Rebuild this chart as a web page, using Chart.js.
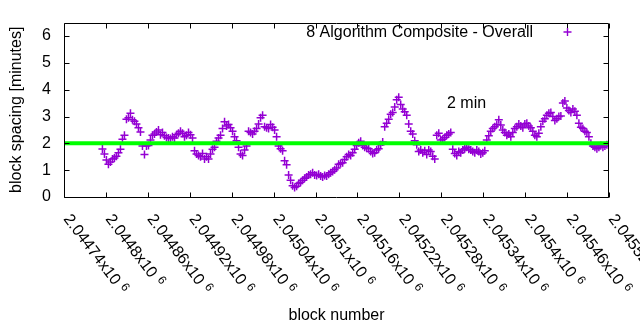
<!DOCTYPE html>
<html>
<head>
<meta charset="utf-8">
<script src="https://cdn.jsdelivr.net/npm/chart.js@4"></script>
<style>
  body { margin: 0; background: #fff; }
  canvas { display: block; }
</style>
</head>
<body>
<canvas id="chart" width="640" height="330"></canvas>
<script>
// Axis ranges and ticks
const xMin = 2044740;
const xMax = 2045520;
const xTickBlocks = [2044740, 2044800, 2044860, 2044920, 2044980, 2045040, 2045100,
  2045160, 2045220, 2045280, 2045340, 2045400, 2045460, 2045520];
const xTickMantissas = ['2.04474', '2.0448', '2.04486', '2.04492', '2.04498', '2.04504', '2.0451',
  '2.04516', '2.04522', '2.04528', '2.04534', '2.0454', '2.04546', '2.04552'];
const xTickExponent = '6';
const yTickValues = [0, 1, 2, 3, 4, 5, 6];

// Block range covered by the measurements
const firstBlock = 2044795;
const lastBlock = 2045517;

// block spacing [minutes] in block order
const spacingMinutes = [
  1.79, 1.60, 1.38, 1.22, 1.30, 1.42, 1.45, 1.52, 1.65, 1.78,
  2.15, 2.30, 2.90, 2.95, 3.12, 2.88, 2.82, 2.72, 2.58, 2.42,
  1.90, 1.58, 1.90, 1.92, 2.12, 2.30, 2.35, 2.42, 2.50, 2.32,
  2.40, 2.28, 2.22, 2.20, 2.18, 2.25, 2.20, 2.32, 2.38, 2.45,
  2.38, 2.25, 2.30, 2.40, 2.32, 2.20, 1.72, 1.60, 1.55, 1.50,
  1.62, 1.42, 1.50, 1.42, 1.60, 1.78, 1.85, 2.08, 2.20, 2.30,
  2.55, 2.80, 2.65, 2.70, 2.58, 2.45, 2.25, 2.10, 1.85, 1.60,
  1.55, 1.75, 1.90, 2.45, 2.40, 2.35, 2.45, 2.55, 2.72, 2.95,
  3.05, 2.62, 2.58, 2.55, 2.70, 2.60, 2.50, 2.25, 1.90, 1.80,
  1.72, 1.35, 1.20, 0.82, 0.62, 0.42, 0.35, 0.40, 0.50, 0.55,
  0.62, 0.70, 0.75, 0.82, 0.85, 0.90, 0.82, 0.80, 0.85, 0.78,
  0.75, 0.80, 0.78, 0.85, 0.90, 0.95, 1.02, 1.08, 1.22, 1.25,
  1.28, 1.40, 1.50, 1.58, 1.55, 1.65, 1.78, 1.92, 2.02, 2.08,
  1.92, 1.85, 1.82, 1.80, 1.70, 1.62, 1.65, 1.75, 1.80, 1.95,
  2.05, 2.62, 2.75, 2.90, 3.08, 3.15, 3.35, 3.62, 3.72, 3.45,
  3.28, 3.18, 3.05, 2.72, 2.45, 2.35, 2.10, 1.95, 1.70, 1.75,
  1.65, 1.72, 1.58, 1.75, 1.70, 1.52, 1.42, 2.30, 2.38, 2.12,
  2.15, 2.22, 2.30, 2.35, 2.40, 1.78, 1.62, 1.55, 1.70, 1.65,
  1.75, 1.80, 1.85, 1.78, 1.75, 1.70, 1.65, 1.75, 1.70, 1.60,
  1.65, 1.72, 2.12, 2.28, 2.45, 2.55, 2.62, 2.70, 2.88, 2.68,
  2.50, 2.40, 2.30, 2.35, 2.25, 2.40, 2.55, 2.62, 2.72, 2.65,
  2.58, 2.72, 2.75, 2.65, 2.58, 2.45, 2.30, 2.25, 2.38, 2.62,
  2.82, 2.92, 3.05, 3.12, 3.15, 3.00, 2.85, 2.92, 3.00, 3.02,
  3.50, 3.58, 3.32, 3.22, 3.15, 3.28, 3.20, 3.05, 2.75, 2.60,
  2.55, 2.45, 2.40, 2.25, 2.00, 1.90, 1.85, 1.80, 1.85, 1.92,
  1.85, 1.90, 1.95
];

const targetMinutes = 2;

const seriesLabel = '8 Algorithm Composite - Overall';
const targetLabel = '2 min';

const fontFamily = '"Liberation Sans", Arial, sans-serif';
const purple = '#9400d3';

// blocks are consecutive, spread evenly over the measured range
const blockStep = (lastBlock - firstBlock) / (spacingMinutes.length - 1);
const points = spacingMinutes.map((v, i) => ({ x: firstBlock + i * blockStep, y: v }));

// Frame, inward ticks, rotated x labels, legend and the "2 min" label
const gnuplotDecor = {
  id: 'gnuplotDecor',
  afterDraw(chart) {
    const { ctx, chartArea: a, scales: { x, y } } = chart;
    const left = Math.round(a.left) + 0.5;
    const right = Math.round(a.right) - 0.5;
    const top = Math.round(a.top) + 0.5;
    const bottom = Math.round(a.bottom) + 0.5;
    const tickLen = 5;

    ctx.save();
    ctx.strokeStyle = '#000';
    ctx.lineWidth = 1;
    ctx.beginPath();
    ctx.moveTo(left, top);
    ctx.lineTo(right, top);
    ctx.lineTo(right, bottom);
    ctx.lineTo(left, bottom);
    ctx.closePath();
    ctx.stroke();

    ctx.beginPath();
    yTickValues.forEach((v) => {
      const py = Math.round(y.getPixelForValue(v)) + 0.5;
      ctx.moveTo(left, py);
      ctx.lineTo(left + tickLen, py);
      ctx.moveTo(right, py);
      ctx.lineTo(right - tickLen, py);
    });
    xTickBlocks.forEach((b) => {
      const px = Math.round(x.getPixelForValue(b)) + 0.5;
      ctx.moveTo(px, bottom);
      ctx.lineTo(px, bottom - tickLen);
      ctx.moveTo(px, top);
      ctx.lineTo(px, top + tickLen);
    });
    ctx.stroke();

    // x tick labels, turned clockwise, starting at the tick
    const angle = 53 * Math.PI / 180;
    ctx.fillStyle = '#000';
    ctx.textAlign = 'left';
    ctx.textBaseline = 'alphabetic';
    xTickBlocks.forEach((b, i) => {
      const px = x.getPixelForValue(b);
      ctx.save();
      ctx.translate(px - 1, a.bottom + 22);
      ctx.rotate(angle);
      ctx.font = '16px ' + fontFamily;
      const text = xTickMantissas[i] + 'x10';
      ctx.fillText(text, 0, 0);
      const w = ctx.measureText(text).width;
      ctx.font = '12px ' + fontFamily;
      ctx.fillText(xTickExponent, w + 5, -5);
      ctx.restore();
    });

    // legend
    ctx.font = '16px ' + fontFamily;
    ctx.textAlign = 'right';
    ctx.fillText(seriesLabel, 533, 37);
    ctx.strokeStyle = purple;
    ctx.lineWidth = 1.4;
    ctx.beginPath();
    ctx.moveTo(563.5, 32);
    ctx.lineTo(571.5, 32);
    ctx.moveTo(567.5, 28);
    ctx.lineTo(567.5, 36);
    ctx.stroke();

    // label for the target line
    ctx.textAlign = 'left';
    ctx.fillStyle = '#000';
    ctx.fillText(targetLabel, 447, 108);
    ctx.restore();
  }
};

const chart = new Chart(document.getElementById('chart'), {
  type: 'scatter',
  data: {
    datasets: [
      {
        label: targetLabel,
        type: 'line',
        data: [{ x: xMin, y: targetMinutes }, { x: xMax, y: targetMinutes }],
        borderColor: '#00ff00',
        borderWidth: 4,
        pointRadius: 0,
        order: 0
      },
      {
        label: seriesLabel,
        data: points,
        pointStyle: 'cross',
        pointRadius: 4,
        borderColor: purple,
        backgroundColor: purple,
        borderWidth: 1.5,
        order: 1
      }
    ]
  },
  options: {
    responsive: false,
    animation: false,
    events: [],
    layout: { padding: { top: 19, right: 31, left: 0, bottom: 0 } },
    plugins: {
      legend: { display: false },
      tooltip: { enabled: false }
    },
    scales: {
      x: {
        type: 'linear',
        min: xMin,
        max: xMax,
        grid: { display: false },
        border: { display: false },
        ticks: { display: false },
        title: {
          display: true,
          text: 'block number',
          color: '#000',
          font: { family: fontFamily, size: 16 },
          padding: { top: 0, bottom: 5 }
        },
        afterFit: (scale) => { scale.height = 133; }
      },
      y: {
        min: 0,
        max: 6.5,
        grid: { display: false, drawTicks: false },
        border: { display: false },
        afterBuildTicks: (scale) => {
          scale.ticks = yTickValues.map((v) => ({ value: v }));
        },
        ticks: {
          padding: 13,
          color: '#000',
          font: { family: fontFamily, size: 16 }
        },
        title: {
          display: true,
          text: 'block spacing [minutes]',
          color: '#000',
          font: { family: fontFamily, size: 16 },
          padding: { top: 7, bottom: 0 }
        },
        afterFit: (scale) => { scale.width = 64; }
      }
    }
  },
  plugins: [gnuplotDecor]
});
</script>
</body>
</html>
